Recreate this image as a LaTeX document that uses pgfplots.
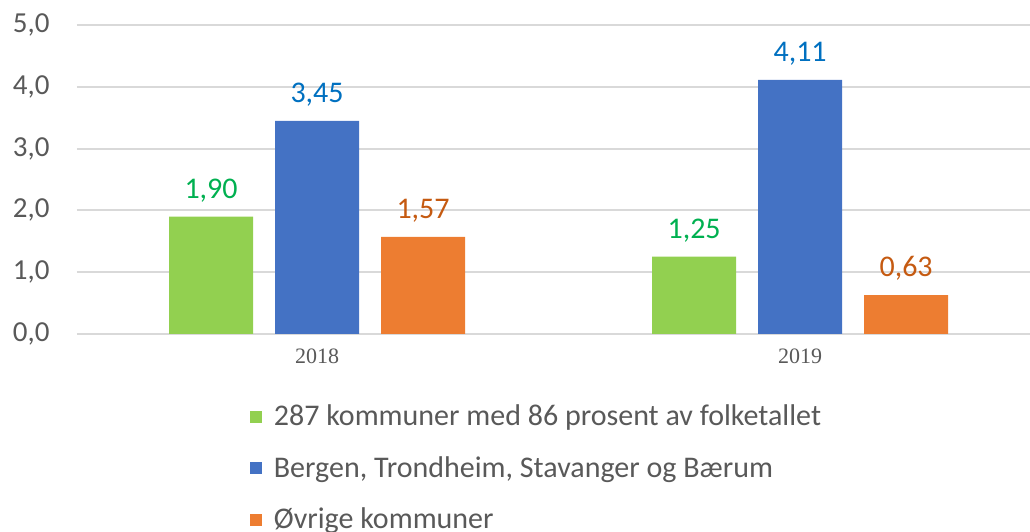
\documentclass[border=0pt]{standalone}
\usepackage{pgfplots}
\pgfplotsset{compat=1.18}
\usepackage{fontspec}
\setmainfont{Carlito}
\newfontfamily\yearfont{Liberation Serif}

\definecolor{cgreen}{RGB}{146,208,80}
\definecolor{cblue}{RGB}{68,114,196}
\definecolor{corange}{RGB}{237,125,49}
\definecolor{tgreen}{RGB}{0,176,80}
\definecolor{tblue}{RGB}{0,112,192}
\definecolor{torange}{RGB}{197,90,17}
\definecolor{txt}{RGB}{89,89,89}
\definecolor{gridc}{RGB}{217,217,217}

\begin{document}
\begin{tikzpicture}
\begin{axis}[
  scale only axis,
  width=476.5pt, height=154.5pt,
  ybar=11pt, bar width=42pt,
  xmin=-0.497, xmax=1.476,
  ymin=0, ymax=5,
  xtick={0,1}, xticklabels={2018,2019},
  ytick={0,1,2,3,4,5},
  axis line style={draw=none},
  major tick length=0pt,
  xmajorgrids=false, ymajorgrids=true,
  grid style={draw=gridc, line width=1pt},
  /pgf/number format/.cd, use comma, fixed, fixed zerofill, precision=1, assume math mode=true,
  /pgfplots/.cd,
  yticklabel style={font=\fontsize{14.5}{16}\selectfont, text=txt, inner sep=0pt, xshift=-13.5pt},
  xticklabel style={font=\yearfont\fontsize{11}{13}\selectfont, text=txt, inner sep=0pt, yshift=-7pt},
  nodes near coords={\pgfmathprintnumber[fixed,fixed zerofill,precision=2,use comma,assume math mode=true]{\pgfplotspointmeta}},
  every node near coord/.append style={font=\fontsize{15}{18}\selectfont, inner sep=0pt, yshift=7pt},
  legend image code/.code={\fill[#1] (0pt,-3pt) rectangle (6pt,3pt);},
  legend style={at={(0.181,-0.215)}, anchor=north west, draw=none, fill=none,
    font=\fontsize{15}{18}\selectfont, text=txt, row sep=9.8pt, inner sep=0pt,
    /tikz/every odd column/.append style={column sep=4pt},
    legend cell align=left},
]
\addplot[fill=cgreen, draw=none, every node near coord/.append style={text=tgreen}]
  coordinates {(0,1.90) (1,1.25)};
\addlegendentry{287 kommuner med 86 prosent av folketallet}
\addplot[fill=cblue, draw=none, every node near coord/.append style={text=tblue}]
  coordinates {(0,3.45) (1,4.11)};
\addlegendentry{Bergen, Trondheim, Stavanger og Bærum}
\addplot[fill=corange, draw=none, every node near coord/.append style={text=torange}]
  coordinates {(0,1.57) (1,0.63)};
\addlegendentry{Øvrige kommuner}
\coordinate (bbsw) at (rel axis cs:-0.0808,-0.6408);
\coordinate (bbne) at (rel axis cs:1.0,1.0809);
\end{axis}
\pgfresetboundingbox
\path[use as bounding box] (bbsw) rectangle (bbne);
\end{tikzpicture}
\end{document}
